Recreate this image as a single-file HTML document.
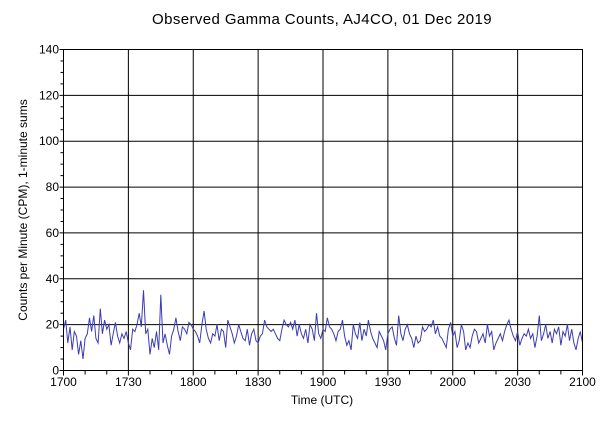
<!DOCTYPE html>
<html><head><meta charset="utf-8"><style>
body{margin:0;background:#fff;width:600px;height:428px;overflow:hidden;font-family:"Liberation Sans",sans-serif}
svg text{font-family:"Liberation Sans",sans-serif;font-size:12px;fill:#000}
</style></head><body>
<svg id="c" width="600" height="428">
<text x="322" y="24" text-anchor="middle" style="font-size:15px;letter-spacing:0.4px">Observed Gamma Counts, AJ4CO, 01 Dec 2019</text>
<text x="322" y="404" text-anchor="middle">Time (UTC)</text>
<text transform="translate(27,210) rotate(-90)" text-anchor="middle">Counts per Minute (CPM), 1-minute sums</text>
<g id="grid"></g><g id="ticks"></g><path id="line" fill="none" stroke="#3c3cb4" stroke-width="1"/>
<rect x="63.5" y="49.5" width="519" height="321" fill="none" stroke="#000"/>
</svg>
<script>
const xTickLabels=["1700","1730","1800","1830","1900","1930","2000","2030","2100"];
const yTickLabels=[0,20,40,60,80,100,120,140];
const counts=[18,22,12,19,9,17,15,7,13,5,14,16,23,17,24,14,12,27,16,22,18,20,11,16,21,15,12,16,14,17,12,9,18,17,20,25,19,35,16,18,7,14,10,17,9,33,12,16,11,7,15,18,23,17,13,19,18,16,21,20,18,17,15,12,20,26,18,14,12,16,15,20,13,18,17,10,22,19,16,12,15,20,17,14,13,18,11,16,18,13,12,15,16,22,19,18,17,18,16,14,13,18,22,20,19,21,18,22,15,20,16,14,18,12,20,18,13,25,16,14,18,17,23,19,18,16,13,17,18,22,15,11,13,9,20,16,14,21,13,18,15,22,17,14,12,10,17,15,13,9,16,18,19,14,11,24,16,13,18,20,16,14,10,15,12,13,19,17,18,20,19,22,16,19,15,14,12,10,18,21,15,17,10,13,20,17,9,12,10,15,18,17,12,14,16,12,20,15,17,9,12,14,16,13,17,20,22,18,15,13,17,11,14,16,15,18,14,16,10,15,24,13,16,20,14,17,12,18,16,19,11,17,15,20,13,18,12,9,14,17,12];
const X0=63.5,X1=582.5,Y0=370.5,Y1=49.5;
const xs=m=>X0+(X1-X0)*m/240, ys=v=>Y0-(Y0-Y1)*v/140;
const ns="http://www.w3.org/2000/svg";
const g=document.getElementById('grid'),t=document.getElementById('ticks');
function mk(tag,a,p){const e=document.createElementNS(ns,tag);for(const k in a)e.setAttribute(k,a[k]);p.appendChild(e);return e;}
xTickLabels.forEach((l,i)=>{const x=xs(i*30);
 const ln=mk('line',{x1:x,x2:x,y1:Y1,y2:Y0+5,stroke:'#000'},g);
 
 
 const tx=mk('text',{x:x,y:386,'text-anchor':'middle'},t);tx.textContent=l;
 
 });
for(let m=10;m<240;m+=10){if(m%30)mk('line',{x1:xs(m),x2:xs(m),y1:Y0,y2:Y0+4,stroke:'#000'},t);}
yTickLabels.forEach(v=>{const y=ys(v);
 const ln=mk('line',{x1:X0-4,x2:X1,y1:y,y2:y,stroke:'#000'},g);
 
 
 const tx=mk('text',{x:59,y:y+4,'text-anchor':'end'},t);tx.textContent=v;
 
 });
for(let v=5;v<140;v+=5){if(v%20)mk('line',{x1:X0-3,x2:X0,y1:ys(v),y2:ys(v),stroke:'#000'},t);}
document.getElementById('line').setAttribute('d',counts.slice(0,241).map((v,i)=>(i?'L':'M')+xs(i).toFixed(1)+','+ys(v).toFixed(1)).join(''));
</script>
</body></html>
